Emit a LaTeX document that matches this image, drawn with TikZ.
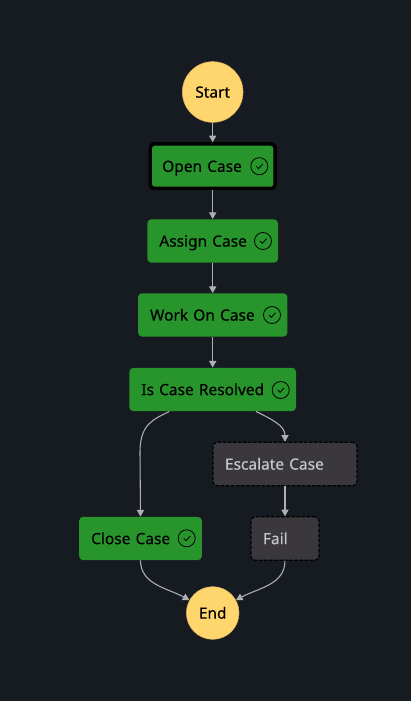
\documentclass[tikz,border=0pt]{standalone}
\usepackage{fontspec}
\setmainfont{Noto Sans}[FakeBold=0.25]
\usetikzlibrary{arrows.meta}
\definecolor{pagebg}{HTML}{161A21}
\definecolor{stategreen}{HTML}{27952B}
\definecolor{stateyellow}{HTML}{FFD56E}
\definecolor{stategray}{HTML}{3A383D}
\definecolor{faintext}{HTML}{C6C7CB}
\definecolor{flowgray}{HTML}{AEB0B3}

\begin{document}
\begin{tikzpicture}[x=0.75pt, y=-0.75pt, >={Triangle[length=5pt,width=5.4pt]},
    every node/.style={font=\fontsize{11.6pt}{14pt}\selectfont\bfseries, text height=9.7pt, text depth=1.3pt},
    flow/.style={->, flowgray, line width=0.8pt},
    terminal/.style={circle, fill=stateyellow, draw=stateyellow!85!black, line width=0.4pt, inner sep=0pt, text=black},
    okbox/.style={rectangle, rounded corners=3pt, fill=stategreen, text=black, minimum height=32.5pt,
      inner xsep=9pt, inner ysep=0pt, text width=#1, align=left},
    failbox/.style={rectangle, rounded corners=3pt, fill=stategray, draw=black, dash pattern=on 2.6pt off 1.2pt, line width=0.9pt,
      text=faintext, minimum height=32.5pt, inner xsep=9pt, inner ysep=0pt, text width=#1, align=left},
    doneicon/.style={circle, draw=black, line width=0.6pt, minimum size=12.8pt, inner sep=0pt,
      text height=0pt, text depth=0pt, path picture={
        \draw[line width=0.6pt, black] ([shift={(-2.2pt,0pt)}]path picture bounding box.center)
          -- ++(1.7pt,-1.8pt) -- ++(3.1pt,3.5pt);}}]
  \fill[pagebg] (0,0) rectangle (411,701);

  \node[terminal, minimum size=45.5pt] (start) at (212.7,92) {Start};
  \node[okbox=75.7pt, draw=black, line width=2.6pt, minimum height=33.4pt] (opencase) at (212.7,166.2) {Open Case};
  \node[okbox=80pt] (assign) at (212.7,241) {Assign Case};
  \node[okbox=94pt] (work) at (212.7,315) {Work On Case};
  \node[okbox=107pt] (resolved) at (212.7,389.5) {Is Case Resolved};
  \node[failbox=90pt] (escalate) at (285,464) {Escalate Case};
  \node[okbox=74pt] (closecase) at (140.5,538.5) {Close Case};
  \node[failbox=33pt] (failstate) at (285,538.5) {Fail};
  \node[terminal, minimum size=39.5pt] (endstate) at (212.7,613) {End};

  \node[doneicon] (openok) at (259.3,166.2) {};
  \node[doneicon] (assignok) at (263,241) {};
  \node[doneicon] (workok) at (272,315) {};
  \node[doneicon] (resolvedok) at (280.7,390) {};
  \node[doneicon] (closeok) at (186.7,538.3) {};

  \coordinate (closebend) at (140,452);
  \draw[flow] (start) -- (opencase);
  \draw[flow] (opencase) -- (assign);
  \draw[flow] (assign) -- (work);
  \draw[flow] (work) -- (resolved);
  \draw[flow] ([xshift=-32.5pt]resolved.south) .. controls +(-16,8) and +(0,-28) .. (closebend) -- (closecase.north);
  \draw[flow] ([xshift=32.5pt]resolved.south) .. controls +(16,8) and +(0,-16) .. (escalate.north);
  \draw[flow] (escalate) -- (failstate);
  \draw[flow] (closecase.south) .. controls +(0,24) and +(-22,-12) .. (endstate.151);
  \draw[flow] (failstate.south) .. controls +(0,24) and +(22,-12) .. (endstate.29);
\end{tikzpicture}
\end{document}
